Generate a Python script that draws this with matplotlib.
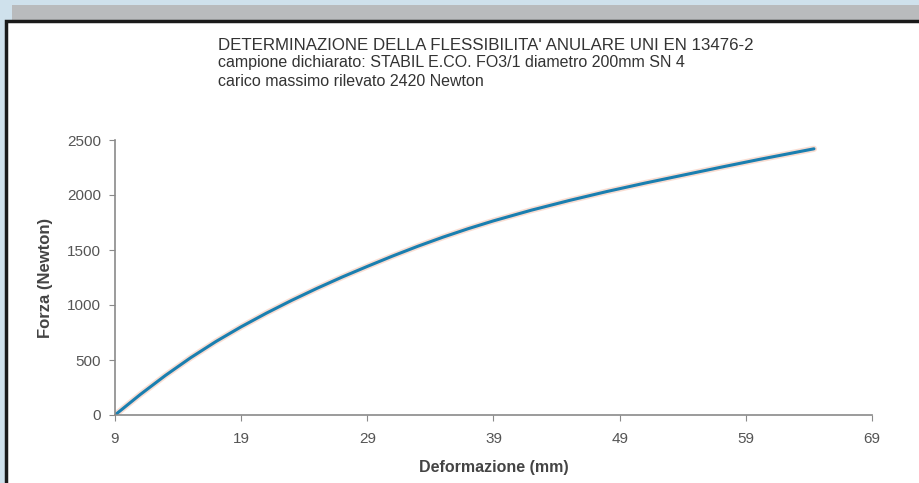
import matplotlib.pyplot as plt
from matplotlib.patches import Rectangle

# values
deformazione = [9, 11, 13, 15, 17, 19, 21, 23, 25, 27, 29, 31, 33, 35, 37, 39,
                42, 45, 48, 51, 54, 57, 60, 64.4]
forza = [0, 186, 360, 521, 668, 802, 926, 1042, 1151, 1254, 1351, 1445, 1534, 1617, 1694, 1765,
         1862, 1950, 2032, 2108, 2180, 2252, 2322, 2420]

x_ticks = [9, 19, 29, 39, 49, 59, 69]
y_ticks = [0, 500, 1000, 1500, 2000, 2500]

titolo = ["DETERMINAZIONE DELLA FLESSIBILITA' ANULARE UNI EN 13476-2",
          "campione dichiarato: STABIL E.CO. FO3/1 diametro 200mm SN 4",
          "carico massimo rilevato 2420 Newton"]
size_titolo = [12.2, 11.5, 11.5]

plt.rcParams['font.family'] = ['Liberation Sans', 'DejaVu Sans']

W, H = 920, 483
fig = plt.figure(figsize=(W / 100, H / 100), dpi=100)
fig.patch.set_facecolor('#cfe1ec')

# frame: grey band + black bordered white panel
fig.patches.append(Rectangle((12 / W, 1 - 20 / H), 1, 15 / H, transform=fig.transFigure,
                             facecolor='#b9bbbd', edgecolor='none', zorder=-2))
fig.patches.append(Rectangle((6 / W, -0.01), 1, 1 - 21 / H + 0.01, transform=fig.transFigure,
                             facecolor='white', edgecolor='#1a1a1a', linewidth=2.5, zorder=-1))

ax = fig.add_axes([115 / W, 1 - 415 / H, (872 - 115) / W, (415 - 140) / H])
ax.set_facecolor('none')
ax.set_zorder(2)

ax.plot(deformazione, forza, color='#f0a080', lw=4.5, alpha=0.35, solid_capstyle='round')
ax.plot(deformazione, forza, color='#1a7fb0', lw=2.2, solid_capstyle='round')

ax.set_xlim(9, 69)
ax.set_ylim(0, 2500)
ax.set_xticks(x_ticks)
ax.set_yticks(y_ticks)
for s in ['top', 'right']:
    ax.spines[s].set_visible(False)
for s in ['left', 'bottom']:
    ax.spines[s].set_color('#8a8a8a')
    ax.spines[s].set_linewidth(1.2)
ax.tick_params(colors='#8a8a8a', labelcolor='#555555', labelsize=11, length=4, pad=6)
ax.tick_params(axis='x', pad=8)

ax.set_xlabel('Deformazione (mm)', fontsize=11.5, fontweight='bold', color='#444444', labelpad=10)
ax.set_ylabel('Forza (Newton)', fontsize=12, fontweight='bold', color='#444444', labelpad=10)

for i, riga in enumerate(titolo):
    fig.text(218 / W, 1 - (45 + i * 18) / H, riga, fontsize=size_titolo[i], color='#333333',
             va='center')

fig.savefig('out.png', dpi=100, facecolor=fig.get_facecolor())
